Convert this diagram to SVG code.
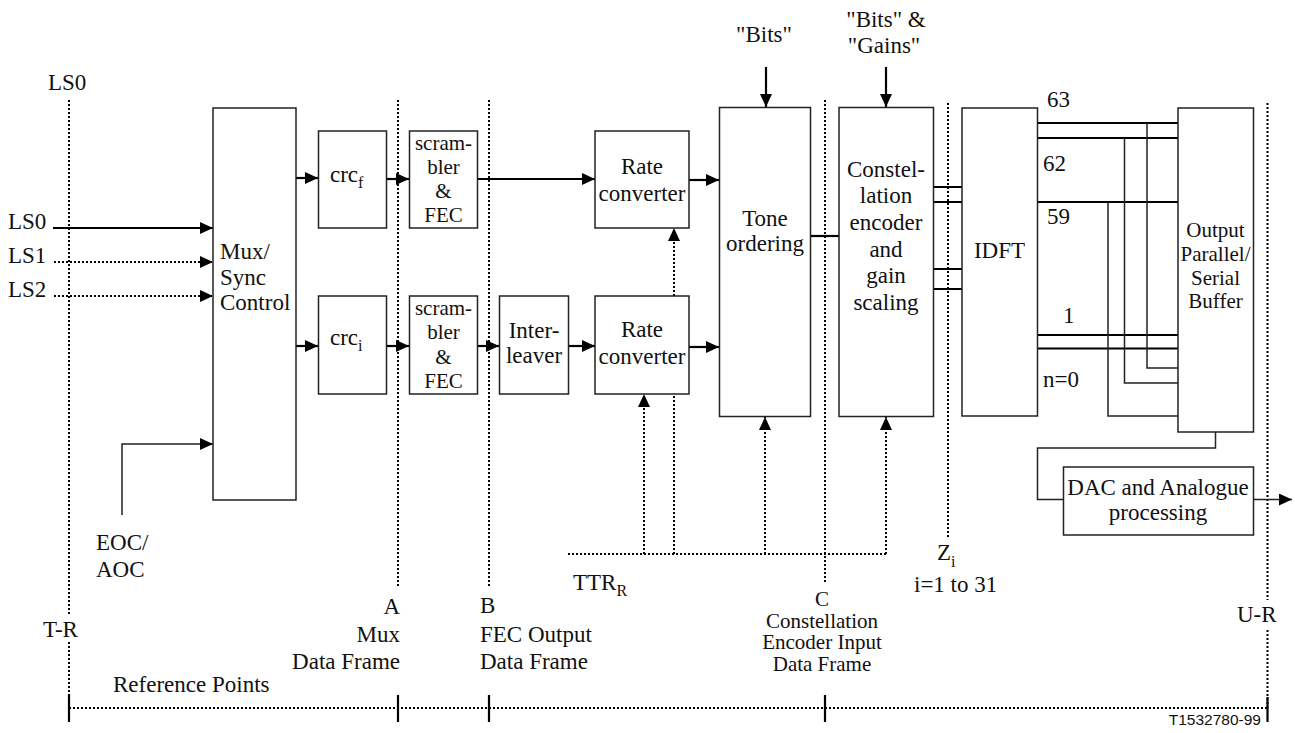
<svg xmlns="http://www.w3.org/2000/svg" width="1295" height="733" viewBox="0 0 1295 733" font-family="'Liberation Serif', 'DejaVu Serif', 'Noto Serif', Times, serif">
<style>
.box{fill:#fff;stroke:#222;stroke-width:1.5}
.t{font-family:'Liberation Serif','Times New Roman','DejaVu Serif',serif;font-size:23px;fill:#111}
.m{text-anchor:middle}
.e{text-anchor:end}
.s{font-size:21px}
.c{font-size:21px}
.sub{font-size:16px}
.ref{stroke:#000;stroke-width:2;stroke-dasharray:2 2;fill:none}
.sig{stroke:#000;stroke-width:2.2;fill:none}
.thin{stroke:#222;stroke-width:1.5;fill:none}
.tick{stroke:#000;stroke-width:2.2}
</style>
<defs>
<marker id="ah" markerUnits="userSpaceOnUse" markerWidth="14" markerHeight="13" refX="13" refY="6" orient="auto">
<path d="M0,0 L13,6 L0,12 z" fill="#000"/>
</marker>
</defs>
<rect width="1295" height="733" fill="#fff"/>

<g id="reference-lines">
<path class="ref" d="M69,100 V615 M69,642 V708"/>
<path class="ref" d="M398,100 V588"/>
<path class="ref" d="M489,100 V587"/>
<path class="ref" d="M825,100 V583"/>
<path class="ref" d="M948,103 V537"/>
<path class="ref" d="M1267.5,103 V600 M1267.5,630 V708"/>
<path class="ref" d="M69,708 H1267.5"/>
<path class="tick" d="M69,694 V722 M398,695 V722 M489,695 V722 M825,695 V722 M1267.5,697 V722"/>
</g>

<g id="connectors">
<path class="sig" d="M53,228 H213" marker-end="url(#ah)"/>
<path class="ref" d="M54,262 H213" marker-end="url(#ah)"/>
<path class="ref" d="M54,296 H213" marker-end="url(#ah)"/>
<path class="thin" d="M122,515 V444 H213" marker-end="url(#ah)"/>
<path class="sig" d="M296,178 H318" marker-end="url(#ah)"/>
<path class="sig" d="M296,346 H318" marker-end="url(#ah)"/>
<path class="sig" d="M387,179 H409" marker-end="url(#ah)"/>
<path class="sig" d="M387,346 H409" marker-end="url(#ah)"/>
<path class="sig" d="M477,179 H595" marker-end="url(#ah)"/>
<path class="sig" d="M477,346 H499" marker-end="url(#ah)"/>
<path class="sig" d="M569,346 H595" marker-end="url(#ah)"/>
<path class="sig" d="M689,180 H719" marker-end="url(#ah)"/>
<path class="sig" d="M689,347 H719" marker-end="url(#ah)"/>
<path class="sig" d="M766,67 V107" marker-end="url(#ah)"/>
<path class="sig" d="M886,67 V107" marker-end="url(#ah)"/>
<path class="ref" d="M568,554 H886"/>
<path class="ref" d="M644,554 V394" marker-end="url(#ah)"/>
<path class="ref" d="M674,554 V394 M674,296 V228" marker-end="url(#ah)"/>
<path class="ref" d="M765,554 V417" marker-end="url(#ah)"/>
<path class="ref" d="M886,554 V417" marker-end="url(#ah)"/>
<path class="sig" d="M811,236 H839"/>
<path class="sig" d="M933,187 H962 M933,202 H962 M933,269 H962 M933,289 H962"/>
<path class="sig" d="M1037,123 H1178 M1037,138 H1178 M1037,202 H1178 M1037,335 H1178 M1037,348.5 H1178"/>
<path class="thin" d="M1147,123 V368 H1178 M1124.5,138 V383 H1178 M1108,202 V416 H1178"/>
<path class="thin" d="M1215.5,432 V448 H1037.5 V499.5 H1063"/>
<path class="thin" d="M1253,499.5 H1292" marker-end="url(#ah)"/>
</g>

<g id="mux"><rect class="box" x="213" y="108" width="83" height="392"/>
<text class="t" x="220" y="259">Mux/</text><text class="t" x="220" y="285">Sync</text><text class="t" x="220" y="310">Control</text></g>
<g id="crc-f"><rect class="box" x="318.5" y="131" width="68" height="97"/>
<text class="t" x="330" y="182">crc<tspan class="sub" dy="6">f</tspan></text></g>
<g id="crc-i"><rect class="box" x="318.5" y="296" width="68" height="98"/>
<text class="t" x="330" y="345">crc<tspan class="sub" dy="6">i</tspan></text></g>
<g id="scrambler-f"><rect class="box" x="409.5" y="131" width="68" height="97"/>
<text class="t m s" x="443.5" y="150">scram-</text><text class="t m s" x="443.5" y="174">bler</text><text class="t m s" x="443.5" y="198">&amp;</text><text class="t m s" x="443.5" y="222">FEC</text></g>
<g id="scrambler-i"><rect class="box" x="409.5" y="296" width="68" height="98"/>
<text class="t m s" x="443.5" y="315">scram-</text><text class="t m s" x="443.5" y="339">bler</text><text class="t m s" x="443.5" y="364">&amp;</text><text class="t m s" x="443.5" y="388">FEC</text></g>
<g id="interleaver"><rect class="box" x="499.5" y="296" width="69" height="98"/>
<text class="t m" x="534" y="338">Inter-</text><text class="t m" x="534" y="363">leaver</text></g>
<g id="rate-f"><rect class="box" x="595" y="131" width="94" height="97"/>
<text class="t m" x="642" y="174">Rate</text><text class="t m" x="642" y="201">converter</text></g>
<g id="rate-i"><rect class="box" x="595" y="296" width="94" height="98"/>
<text class="t m" x="642" y="337">Rate</text><text class="t m" x="642" y="364">converter</text></g>
<g id="tone"><rect class="box" x="719.5" y="107.5" width="91" height="309"/>
<text class="t m" x="765" y="226">Tone</text><text class="t m" x="765" y="251">ordering</text></g>
<g id="constellation"><rect class="box" x="839" y="107.5" width="94.5" height="309"/>
<text class="t m" x="886" y="177">Constel-</text><text class="t m" x="886" y="203">lation</text><text class="t m" x="886" y="230">encoder</text><text class="t m" x="886" y="257">and</text><text class="t m" x="886" y="283">gain</text><text class="t m" x="886" y="310">scaling</text></g>
<g id="idft"><rect class="box" x="962" y="108" width="75.5" height="308"/>
<text class="t m" x="999.5" y="258">IDFT</text></g>
<g id="buffer"><rect class="box" x="1178" y="108" width="75.5" height="324"/>
<text class="t m s" x="1215.5" y="237">Output</text><text class="t m s" x="1215.5" y="261">Parallel/</text><text class="t m s" x="1215.5" y="285">Serial</text><text class="t m s" x="1215.5" y="308">Buffer</text></g>
<g id="dac"><rect class="box" x="1063.5" y="467" width="190" height="68"/>
<text class="t m" x="1158" y="495">DAC and Analogue</text><text class="t m" x="1158" y="520">processing</text></g>

<g id="labels">
<text class="t" x="48" y="90">LS0</text>
<text class="t" x="8" y="229">LS0</text>
<text class="t" x="8" y="263">LS1</text>
<text class="t" x="8" y="297">LS2</text>
<text class="t" x="96" y="550">EOC/</text>
<text class="t" x="96" y="577">AOC</text>
<text class="t m" x="764" y="42">"Bits"</text>
<text class="t m" x="886" y="27">"Bits" &amp;</text>
<text class="t m" x="884" y="53">"Gains"</text>
<text class="t" x="1047" y="107">63</text>
<text class="t" x="1043" y="171">62</text>
<text class="t" x="1047" y="224">59</text>
<text class="t" x="1063" y="323">1</text>
<text class="t" x="1043" y="387">n=0</text>
<text class="t" x="573" y="590">TTR<tspan class="sub" dy="6">R</tspan></text>
<text class="t" x="937" y="560">Z<tspan class="sub" dy="7">i</tspan></text>
<text class="t" x="914" y="592">i=1 to 31</text>
<text class="t" x="43" y="637">T-R</text>
<text class="t" x="1237" y="622">U-R</text>
<text class="t e" x="400" y="614">A</text>
<text class="t e" x="400" y="642">Mux</text>
<text class="t e" x="400" y="669">Data Frame</text>
<text class="t" x="480" y="613">B</text>
<text class="t" x="480" y="642">FEC Output</text>
<text class="t" x="480" y="669">Data Frame</text>
<text class="t m c" x="822" y="606">C</text>
<text class="t m c" x="822" y="627.5">Constellation</text>
<text class="t m c" x="822" y="649">Encoder Input</text>
<text class="t m c" x="822" y="670.5">Data Frame</text>
<text class="t" x="113" y="692">Reference Points</text>
<text x="1261" y="725" text-anchor="end" style="font-family:'Liberation Sans',Arial,sans-serif;font-size:15.5px;fill:#111">T1532780-99</text>
</g>
</svg>
